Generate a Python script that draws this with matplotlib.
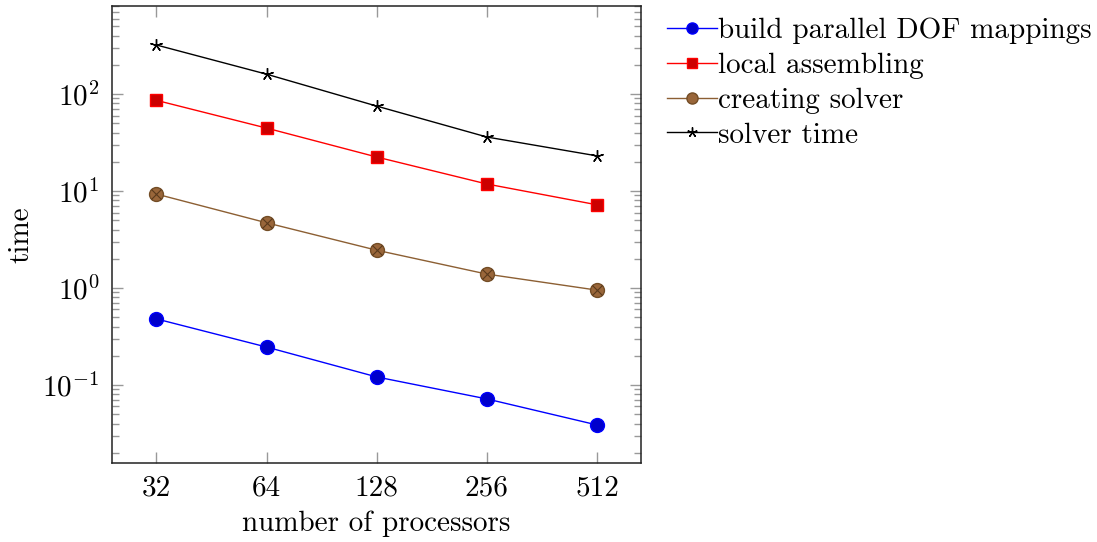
import matplotlib
matplotlib.use("Agg")
import matplotlib.pyplot as plt
from matplotlib.ticker import FixedLocator, NullLocator, LogLocator, NullFormatter

plt.rcParams["font.family"] = ["cmr10", "DejaVu Serif"]
plt.rcParams["mathtext.fontset"] = "cm"
plt.rcParams["axes.formatter.use_mathtext"] = True

procs = [32, 64, 128, 256, 512]
dof_mappings = [0.48, 0.246, 0.121, 0.0718, 0.0387]
local_assembling = [86.0, 44.5, 22.4, 11.8, 7.2]
creating_solver = [9.3, 4.7, 2.45, 1.39, 0.95]
solver_time = [320, 160, 75, 36, 23]

fig = plt.figure(figsize=(10.97, 5.42), dpi=100)
ax = fig.add_axes([0.1021, 0.1458, 0.4822, 0.8431])

ax.plot(procs, dof_mappings, color="#0000ff", lw=1.0, marker="o", ms=10,
        mfc="#0000cc", mec="#0000ff", label="build parallel DOF mappings")
ax.plot(procs, local_assembling, color="#ff0000", lw=1.0, marker="s", ms=9,
        mfc="#cc0000", mec="#ff0000", label="local assembling")
brown_line = "#8c5f33"
ax.plot(procs, creating_solver, color=brown_line, lw=1.0, marker="o", ms=10,
        mfc="#99663a", mec="#734d26", label="creating solver")
ax.plot(procs, creating_solver, ls="none", marker="x", ms=6.5, mew=0.8,
        color="#5a3a1c")
ax.plot(procs, solver_time, color="black", lw=1.0, marker=(5, 2, 0), ms=9,
        mew=1.0, label="solver time")

ax.set_xscale("log", base=2)
ax.set_yscale("log")
ax.set_xlim(24.2, 675)
ax.set_ylim(0.0157, 807)

ax.xaxis.set_major_locator(FixedLocator(procs))
ax.xaxis.set_major_formatter(plt.FixedFormatter([str(p) for p in procs]))
ax.xaxis.set_minor_locator(NullLocator())
ax.yaxis.set_major_locator(LogLocator(base=10, numticks=20))
ax.yaxis.set_minor_locator(LogLocator(base=10, subs=range(2, 10), numticks=20))
ax.yaxis.set_minor_formatter(NullFormatter())

ax.tick_params(which="both", direction="in", top=True, right=True,
               color="#999999", labelsize=21, pad=9)
ax.tick_params(which="major", length=8, width=1.0)
ax.tick_params(which="minor", length=5, width=1.0)
for s in ax.spines.values():
    s.set_linewidth(1.1)
    s.set_color("#222222")

ax.set_xlabel("number of processors", fontsize=21, labelpad=6)
ax.set_ylabel("time", fontsize=21, labelpad=6)

handles, labels = ax.get_legend_handles_labels()
fig.legend(handles, labels, loc="upper left", bbox_to_anchor=(0.592, 1.0),
           frameon=False, fontsize=21, handlelength=1.7, handletextpad=0.05,
           labelspacing=0.29, borderaxespad=0.2, markerscale=0.8)

fig.savefig("out.png", dpi=100)
